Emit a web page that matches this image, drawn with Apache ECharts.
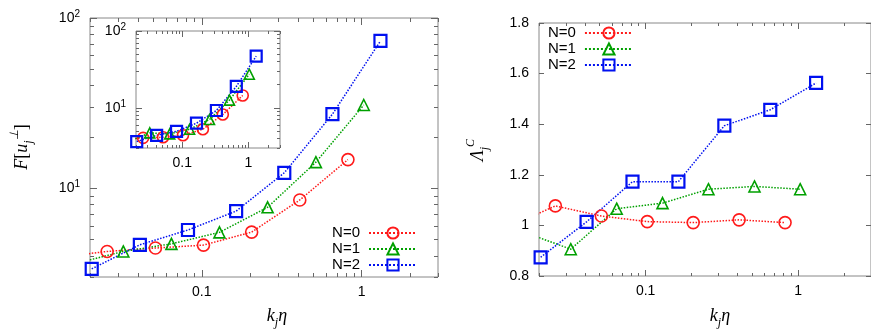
<!DOCTYPE html>
<html>
<head>
<meta charset="utf-8">
<script src="https://cdn.jsdelivr.net/npm/echarts@6/dist/echarts.min.js"></script>
<style>
  html, body { margin: 0; padding: 0; background: #fff; }
  #chart { width: 871px; height: 329px; }
</style>
</head>
<body>
<div id="chart"></div>
<script>
// k_j eta for each N (same on all panels)
const kN0 = [0.0128, 0.0256, 0.0513, 0.1025, 0.205, 0.41, 0.82];
const kN1 = [0.0162, 0.0323, 0.0646, 0.129, 0.258, 0.517, 1.03];
const kN2 = [0.0205, 0.041, 0.082, 0.164, 0.328, 0.656, 1.31];

// left panel, F[u_j]
const fN0 = [3.92, 4.24, 4.44, 4.62, 5.51, 8.51, 14.7];
const fN1 = [3.6, 4.24, 4.70, 5.49, 7.71, 14.2, 30.8];
const fN2 = [3.35, 4.64, 5.67, 7.32, 12.3, 27.2, 73.3];

// inset
const gN0 = [3.85, 4.06, 4.14, 4.39, 5.26, 8.18, 14.5];
const gN1 = [3.7, 4.72, 4.58, 5.26, 7.04, 12.6, 27.4];
const gN2 = [3.64, 4.39, 4.95, 6.31, 9.23, 18.97, 47.1];

// right panel, Lambda_j^C
const lN0 = [0.996, 1.077, 1.037, 1.015, 1.011, 1.022, 1.011];
const lN1 = [0.972, 0.906, 1.066, 1.088, 1.143, 1.154, 1.143];
const lN2 = [0.874, 1.014, 1.173, 1.173, 1.394, 1.457, 1.563];

const names = ['N=0', 'N=1', 'N=2'];
const colors = ['#ff1a1a', '#00a000', '#0010f0'];
const symbols = ['circle', 'triangle', 'rect'];

// tick marks
const xMajor = [0.1, 1];
const yMajorLog = [10, 100];
const yMajorLin = [0.8, 1, 1.2, 1.4, 1.6, 1.8];

function minorLog(lo, hi) {
  let out = [];
  for (let d = Math.floor(Math.log10(lo)); d <= Math.ceil(Math.log10(hi)); d++) {
    for (let m = 2; m <= 9; m++) {
      let v = m * Math.pow(10, d);
      if (v >= lo * 0.999 && v <= hi * 1.001) out.push(v);
    }
  }
  return out;
}

const FONT = 'Liberation Sans';
const TICK = '#666';

const supRich = {
  b: { fontSize: 14, fontFamily: FONT, color: '#000', lineHeight: 17 },
  s: { fontSize: 10, fontFamily: FONT, color: '#000', verticalAlign: 'top', lineHeight: 10 }
};
function fmtX(v) {
  let e = Math.round(Math.log10(v));
  return e === -1 ? '0.1' : (e === 0 ? '1' : '');
}
function fmtPow(v) {
  let e = Math.round(Math.log10(v));
  return '{b|10}{s|' + e + '}';
}

// 4 axes for one side pair: labelled major, minor, mirrored major, mirrored minor
function axisSet(dim, gi, type, min, max, major, minor, fmt, majLen, minLen) {
  const pos = dim === 'x' ? ['bottom', 'top'] : ['left', 'right'];
  let list = [];
  [0, 1].forEach(function (side) {
    [true, false].forEach(function (isMajor) {
      let vals = isMajor ? major : minor;
      let ax = {
        gridIndex: gi,
        type: type,
        min: min,
        max: max,
        position: pos[side],
        axisLine: { show: false, onZero: false },
        splitLine: { show: false },
        axisTick: {
          show: vals.length > 0,
          inside: true,
          length: isMajor ? majLen : minLen,
          lineStyle: { color: TICK, width: 1 },
          customValues: vals.length ? vals : undefined
        },
        axisLabel: { show: false }
      };
      if (side === 0 && isMajor) {
        ax.axisLabel = {
          show: true,
          customValues: major,
          formatter: fmt,
          margin: dim === 'x' ? 8 : 10,
          fontSize: 14,
          fontFamily: FONT,
          color: '#000',
          rich: supRich
        };
      }
      list.push(ax);
    });
  });
  return list;
}

const xMinor = minorLog(0.02, 3);
const yMinor = minorLog(3, 100);

let xAxes = [].concat(
  axisSet('x', 0, 'log', 0.02, 3, xMajor, xMinor, fmtX, 7, 4),
  axisSet('x', 1, 'log', 0.02, 3, xMajor, xMinor, fmtX, 6, 3),
  axisSet('x', 2, 'log', 0.02, 3, xMajor, xMinor, fmtX, 6, 3)
);
let yAxes = [].concat(
  axisSet('y', 0, 'log', 3, 100, yMajorLog, yMinor, fmtPow, 7, 4),
  axisSet('y', 1, 'log', 3, 100, yMajorLog, yMinor, fmtPow, 6, 3),
  axisSet('y', 2, 'value', 0.8, 1.8, yMajorLin, [], null, 5, 3)
);
yAxes[8].axisLabel.formatter = function (v) { return String(Math.round(v * 10) / 10); };
yAxes[8].axisLabel.rich = undefined;

function pts(xs, ys) {
  return xs.map(function (x, i) { return [x, ys[i]]; });
}

const kSets = [kN0, kN1, kN2];
const panels = [
  { ax: 0, ys: [fN0, fN1, fN2], size: 12 },
  { ax: 4, ys: [gN0, gN1, gN2], size: 11 },
  { ax: 8, ys: [lN0, lN1, lN2], size: 12 }
];

let series = [];
panels.forEach(function (p) {
  for (let i = 0; i < 3; i++) {
    series.push({
      name: names[i],
      type: 'line',
      xAxisIndex: p.ax,
      yAxisIndex: p.ax,
      data: pts(kSets[i], p.ys[i]),
      clip: true,
      symbol: symbols[i],
      symbolSize: symbols[i] === 'triangle' ? p.size - 1 : p.size,
      lineStyle: { type: 'dotted', width: 1.5, color: colors[i] },
      itemStyle: { color: 'transparent', borderColor: colors[i], borderWidth: symbols[i] === 'rect' ? 2.2 : 1.6 },
      emphasis: { disabled: true },
      animation: false
    });
  }
});

const legendBase = {
  orient: 'vertical',
  align: 'right',
  data: names,
  itemWidth: 48,
  itemHeight: 14,
  itemGap: 0,
  padding: 0,
  selectedMode: false,
  textStyle: { fontSize: 15, lineHeight: 16, fontFamily: FONT, color: '#000', padding: [0, 4, 0, 0] }
};

const mathRich = {
  i: { fontFamily: 'Liberation Serif', fontStyle: 'italic', fontSize: 18, color: '#444' },
  n: { fontFamily: 'Liberation Serif', fontSize: 18, color: '#444' },
  sb: { fontFamily: 'Liberation Serif', fontStyle: 'italic', fontSize: 12, color: '#444', verticalAlign: 'bottom', lineHeight: 26 },
  sp: { fontFamily: 'Liberation Serif', fontStyle: 'italic', fontSize: 12, color: '#444', verticalAlign: 'top', lineHeight: 12 }
};

let chart = echarts.init(document.getElementById('chart'), null, { renderer: 'canvas' });
chart.setOption({
  animation: false,
  backgroundColor: '#fff',
  grid: [
    { left: 90, top: 18, width: 348, height: 259, show: true, borderColor: '#888', borderWidth: 1, backgroundColor: 'transparent' },
    { left: 136, top: 31, width: 144, height: 117, show: true, borderColor: '#888', borderWidth: 1, backgroundColor: '#fff' },
    { left: 539, top: 23, width: 341, height: 253, show: true, borderColor: '#888', borderWidth: 1, backgroundColor: 'transparent' }
  ],
  xAxis: xAxes,
  yAxis: yAxes,
  legend: [
    Object.assign({}, legendBase, { right: 453, top: 225 }),
    Object.assign({}, legendBase, { left: 548, top: 25 })
  ],
  graphic: [
    { type: 'text', x: 22, y: 147, rotation: Math.PI / 2,
      style: { text: '{i|F}{n|[}{i|u}{sb|j}{sp|⊥}{n|]}', rich: mathRich, align: 'center', verticalAlign: 'middle' } },
    { type: 'text', x: 277, y: 316,
      style: { text: '{i|k}{sb|j}{i|η}', rich: mathRich, align: 'center', verticalAlign: 'middle' } },
    { type: 'text', x: 478, y: 150, rotation: Math.PI / 2,
      style: { text: '{i|Λ}{sb|j}{sp|C}', rich: mathRich, align: 'center', verticalAlign: 'middle' } },
    { type: 'text', x: 720, y: 316,
      style: { text: '{i|k}{sb|j}{i|η}', rich: mathRich, align: 'center', verticalAlign: 'middle' } }
  ],
  series: series
});
</script>
</body>
</html>
